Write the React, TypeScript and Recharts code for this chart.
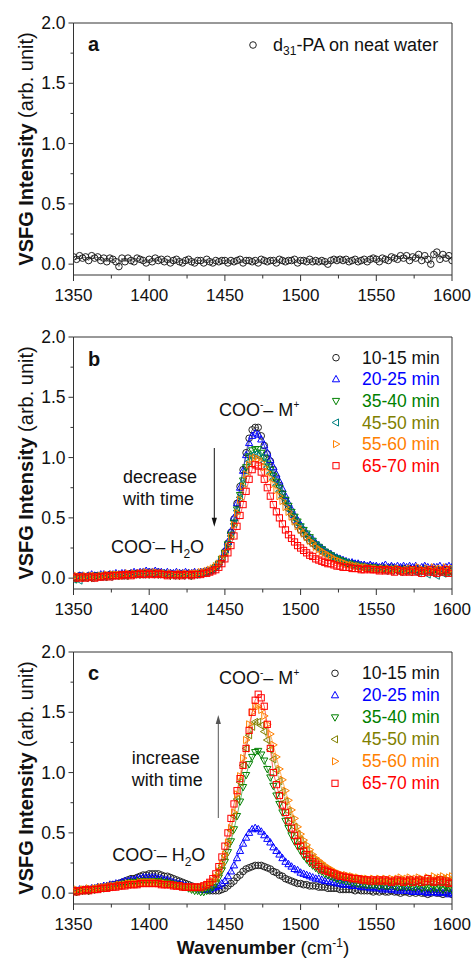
import React from 'react';
import { ComposedChart, Line, XAxis, YAxis, ReferenceArea } from 'recharts';

const FONT = '"Liberation Sans", Arial, Helvetica, sans-serif';
const AXIS = '#333';
const INK = '#111';

// ---------- data ----------
const WAVENUMBER = [
  1350, 1352, 1354, 1356, 1358, 1360, 1362, 1364, 1366, 1368,
  1370, 1372, 1374, 1376, 1378, 1380, 1382, 1384, 1386, 1388,
  1390, 1392, 1394, 1396, 1398, 1400, 1402, 1404, 1406, 1408,
  1410, 1412, 1414, 1416, 1418, 1420, 1422, 1424, 1426, 1428,
  1430, 1432, 1434, 1436, 1438, 1440, 1442, 1444, 1446, 1448,
  1450, 1452, 1454, 1456, 1458, 1460, 1462, 1464, 1466, 1468,
  1470, 1472, 1474, 1476, 1478, 1480, 1482, 1484, 1486, 1488,
  1490, 1492, 1494, 1496, 1498, 1500, 1502, 1504, 1506, 1508,
  1510, 1512, 1514, 1516, 1518, 1520, 1522, 1524, 1526, 1528,
  1530, 1532, 1534, 1536, 1538, 1540, 1542, 1544, 1546, 1548,
  1550, 1552, 1554, 1556, 1558, 1560, 1562, 1564, 1566, 1568,
  1570, 1572, 1574, 1576, 1578, 1580, 1582, 1584, 1586, 1588,
  1590, 1592, 1594, 1596, 1598, 1600,
];

const X_TICKS = [1350, 1375, 1400, 1425, 1450, 1475, 1500, 1525, 1550, 1575, 1600];
const Y_TICKS = [0, 0.25, 0.5, 0.75, 1, 1.25, 1.5, 1.75, 2];

const SERIES_LABELS = ['10-15 min', '20-25 min', '35-40 min', '45-50 min', '55-60 min', '65-70 min'];

// panel a: d31-PA on neat water
const A_NEAT = [
  0.06, 0.04, 0.07, 0.05, 0.06, 0.03, 0.07, 0.05, 0.06, 0.03,
  0.05, 0.02, 0.05, 0.04, 0.02, -0.02, 0.05, 0.02, 0.05, 0.03,
  0.02, 0.05, 0.04, 0.03, 0.01, 0.04, 0.02, 0.05, 0.03, 0.04,
  0.02, 0.04, 0.01, 0.03, 0.04, 0.02, 0.01, 0.03, 0.04, 0.02,
  0.01, 0.03, 0.03, 0.01, 0.04, 0.02, 0.01, 0.03, 0.02, 0.03,
  0.03, 0.01, 0.03, 0.02, 0.03, 0.04, 0.01, 0.03, 0.03, 0.02,
  0.03, 0.01, 0.04, 0.03, 0.02, 0.03, 0.03, 0.01, 0.04, 0.03,
  0.02, 0.03, 0.03, 0.04, 0.01, 0.03, 0.03, 0.02, 0.04, 0.02,
  0.03, 0.02, 0.03, 0.02, 0.0, 0.03, 0.04, 0.03, 0.04, 0.03,
  0.04, 0.02, 0.03, 0.04, 0.02, 0.03, 0.04, 0.02, 0.04, 0.05,
  0.04, 0.02, 0.05, 0.04, 0.03, 0.06, 0.05, 0.04, 0.07, 0.05,
  0.07, 0.03, 0.06, 0.05, 0.08, 0.03, 0.07, 0.04, 0.0, 0.08,
  0.1, 0.04, 0.08, 0.05, 0.07, 0.03,
];

// panel b: decrease with time
const B_10_15 = [
  0.01, 0.0, 0.02, 0.01, 0.01, 0.02, 0.01, 0.02, 0.02, 0.01,
  0.02, 0.02, 0.03, 0.02, 0.03, 0.03, 0.02, 0.03, 0.03, 0.04,
  0.03, 0.04, 0.04, 0.03, 0.04, 0.05, 0.04, 0.04, 0.05, 0.04,
  0.04, 0.03, 0.04, 0.03, 0.03, 0.04, 0.03, 0.03, 0.04, 0.03,
  0.04, 0.04, 0.04, 0.05, 0.05, 0.06, 0.07, 0.09, 0.12, 0.16,
  0.22, 0.29, 0.38, 0.49, 0.62, 0.76, 0.9, 1.04, 1.16, 1.23,
  1.25, 1.25, 1.18, 1.1, 1.03, 0.97, 0.9, 0.83, 0.77, 0.7,
  0.64, 0.58, 0.53, 0.48, 0.44, 0.4, 0.37, 0.34, 0.31, 0.29,
  0.27, 0.25, 0.23, 0.21, 0.2, 0.18, 0.17, 0.16, 0.15, 0.14,
  0.13, 0.12, 0.12, 0.11, 0.11, 0.1, 0.1, 0.09, 0.1, 0.09,
  0.09, 0.08, 0.09, 0.08, 0.08, 0.09, 0.08, 0.07, 0.08, 0.08,
  0.07, 0.08, 0.07, 0.08, 0.07, 0.06, 0.08, 0.07, 0.06, 0.07,
  0.07, 0.06, 0.07, 0.06, 0.05, 0.06,
];
const B_20_25 = [
  0.02, 0.01, 0.02, 0.02, 0.01, 0.02, 0.03, 0.02, 0.02, 0.03,
  0.03, 0.02, 0.03, 0.03, 0.04, 0.03, 0.04, 0.04, 0.03, 0.04,
  0.05, 0.04, 0.05, 0.05, 0.06, 0.05, 0.05, 0.06, 0.05, 0.05,
  0.04, 0.05, 0.04, 0.04, 0.05, 0.04, 0.04, 0.05, 0.04, 0.04,
  0.05, 0.04, 0.05, 0.05, 0.06, 0.06, 0.08, 0.1, 0.13, 0.17,
  0.23, 0.3, 0.39, 0.5, 0.62, 0.75, 0.89, 1.02, 1.12, 1.18,
  1.2, 1.19, 1.15, 1.1, 1.04, 0.98, 0.92, 0.86, 0.8, 0.74,
  0.68, 0.62, 0.57, 0.52, 0.48, 0.44, 0.4, 0.37, 0.34, 0.32,
  0.29, 0.27, 0.25, 0.23, 0.21, 0.2, 0.18, 0.17, 0.16, 0.15,
  0.14, 0.13, 0.13, 0.12, 0.12, 0.11, 0.11, 0.1, 0.11, 0.1,
  0.1, 0.09, 0.1, 0.11, 0.09, 0.1, 0.09, 0.1, 0.09, 0.1,
  0.09, 0.1, 0.09, 0.1, 0.08, 0.09, 0.1, 0.09, 0.08, 0.09,
  0.09, 0.1, 0.08, 0.09, 0.1, 0.09,
];
const B_35_40 = [
  0.0, -0.01, 0.01, 0.0, 0.01, 0.01, 0.0, 0.02, 0.01, 0.02,
  0.02, 0.01, 0.02, 0.02, 0.03, 0.02, 0.03, 0.03, 0.02, 0.03,
  0.03, 0.04, 0.03, 0.04, 0.04, 0.03, 0.04, 0.04, 0.03, 0.04,
  0.03, 0.03, 0.02, 0.03, 0.03, 0.02, 0.03, 0.03, 0.03, 0.02,
  0.03, 0.03, 0.04, 0.04, 0.05, 0.06, 0.07, 0.09, 0.12, 0.16,
  0.21, 0.28, 0.36, 0.46, 0.57, 0.69, 0.81, 0.92, 1.01, 1.06,
  1.07, 1.07, 1.04, 1.0, 0.95, 0.9, 0.85, 0.8, 0.75, 0.7,
  0.65, 0.6, 0.55, 0.51, 0.47, 0.43, 0.4, 0.37, 0.34, 0.31,
  0.28, 0.26, 0.24, 0.22, 0.2, 0.19, 0.17, 0.16, 0.15, 0.14,
  0.13, 0.12, 0.11, 0.11, 0.1, 0.1, 0.09, 0.09, 0.08, 0.09,
  0.08, 0.08, 0.07, 0.08, 0.07, 0.07, 0.08, 0.06, 0.07, 0.07,
  0.06, 0.07, 0.06, 0.07, 0.05, 0.06, 0.07, 0.06, 0.05, 0.06,
  0.07, 0.05, 0.06, 0.04, 0.06, 0.05,
];
const B_45_50 = [
  -0.01, 0.0, -0.02, 0.01, 0.0, 0.01, 0.0, 0.01, 0.02, 0.01,
  0.01, 0.02, 0.01, 0.02, 0.02, 0.03, 0.02, 0.02, 0.03, 0.03,
  0.03, 0.03, 0.04, 0.03, 0.04, 0.04, 0.03, 0.04, 0.03, 0.04,
  0.03, 0.03, 0.03, 0.02, 0.03, 0.03, 0.02, 0.03, 0.02, 0.03,
  0.03, 0.03, 0.04, 0.04, 0.05, 0.06, 0.07, 0.09, 0.12, 0.16,
  0.21, 0.27, 0.35, 0.45, 0.56, 0.67, 0.79, 0.89, 0.97, 1.02,
  1.03, 1.02, 1.0, 0.96, 0.92, 0.87, 0.82, 0.77, 0.72, 0.67,
  0.62, 0.57, 0.53, 0.49, 0.45, 0.42, 0.38, 0.35, 0.32, 0.3,
  0.27, 0.25, 0.23, 0.21, 0.2, 0.18, 0.17, 0.16, 0.14, 0.13,
  0.13, 0.12, 0.11, 0.1, 0.1, 0.09, 0.09, 0.08, 0.08, 0.08,
  0.07, 0.08, 0.07, 0.06, 0.07, 0.06, 0.07, 0.06, 0.05, 0.06,
  0.06, 0.05, 0.06, 0.05, 0.04, 0.06, 0.05, 0.03, 0.05, 0.04,
  0.02, 0.05, 0.04, 0.06, 0.07, 0.08,
];
const B_55_60 = [
  0.01, 0.02, 0.01, 0.01, 0.02, 0.01, 0.02, 0.02, 0.01, 0.02,
  0.02, 0.03, 0.02, 0.03, 0.03, 0.03, 0.02, 0.03, 0.04, 0.03,
  0.04, 0.03, 0.04, 0.04, 0.05, 0.04, 0.04, 0.05, 0.04, 0.04,
  0.04, 0.03, 0.04, 0.03, 0.03, 0.04, 0.03, 0.04, 0.03, 0.04,
  0.04, 0.04, 0.05, 0.05, 0.06, 0.07, 0.08, 0.1, 0.12, 0.16,
  0.2, 0.26, 0.34, 0.44, 0.54, 0.65, 0.76, 0.86, 0.94, 0.99,
  1.0, 0.99, 0.96, 0.92, 0.88, 0.83, 0.78, 0.73, 0.68, 0.64,
  0.59, 0.55, 0.51, 0.47, 0.43, 0.4, 0.37, 0.34, 0.31, 0.29,
  0.26, 0.24, 0.22, 0.21, 0.19, 0.18, 0.16, 0.15, 0.14, 0.13,
  0.12, 0.11, 0.11, 0.1, 0.1, 0.09, 0.09, 0.09, 0.08, 0.08,
  0.08, 0.07, 0.08, 0.07, 0.08, 0.07, 0.07, 0.08, 0.07, 0.06,
  0.07, 0.08, 0.06, 0.07, 0.09, 0.07, 0.06, 0.08, 0.07, 0.09,
  0.06, 0.08, 0.07, 0.09, 0.06, 0.08,
];
const B_65_70 = [
  0.0, 0.01, 0.0, 0.01, 0.0, 0.01, 0.01, 0.0, 0.01, 0.01,
  0.01, 0.02, 0.01, 0.02, 0.02, 0.02, 0.03, 0.02, 0.03, 0.02,
  0.03, 0.03, 0.04, 0.03, 0.03, 0.04, 0.03, 0.03, 0.04, 0.03,
  0.03, 0.02, 0.03, 0.03, 0.02, 0.03, 0.02, 0.03, 0.03, 0.02,
  0.03, 0.03, 0.03, 0.04, 0.04, 0.05, 0.06, 0.07, 0.09, 0.12,
  0.16, 0.21, 0.27, 0.35, 0.43, 0.52, 0.61, 0.72, 0.82, 0.9,
  0.94, 0.93, 0.88, 0.82, 0.75, 0.68, 0.61, 0.55, 0.5, 0.45,
  0.4, 0.36, 0.33, 0.3, 0.27, 0.25, 0.23, 0.21, 0.19, 0.18,
  0.16, 0.15, 0.14, 0.13, 0.12, 0.12, 0.11, 0.1, 0.1, 0.09,
  0.09, 0.09, 0.08, 0.08, 0.08, 0.07, 0.07, 0.08, 0.07, 0.07,
  0.07, 0.06, 0.07, 0.06, 0.07, 0.06, 0.05, 0.07, 0.06, 0.05,
  0.06, 0.05, 0.07, 0.05, 0.06, 0.04, 0.06, 0.05, 0.07, 0.05,
  0.04, 0.06, 0.05, 0.07, 0.04, 0.06,
];

// panel c: increase with time
const C_10_15 = [
  0.02, 0.01, 0.02, 0.02, 0.03, 0.02, 0.03, 0.03, 0.04, 0.04,
  0.05, 0.05, 0.06, 0.07, 0.07, 0.08, 0.09, 0.1, 0.11, 0.12,
  0.12, 0.13, 0.14, 0.15, 0.15, 0.16, 0.16, 0.16, 0.16, 0.15,
  0.14, 0.14, 0.13, 0.12, 0.11, 0.1, 0.09, 0.08, 0.07, 0.06,
  0.05, 0.05, 0.04, 0.03, 0.03, 0.02, 0.02, 0.02, 0.02, 0.03,
  0.04, 0.06, 0.08, 0.1, 0.13, 0.15, 0.18, 0.2, 0.21, 0.22,
  0.23, 0.23, 0.23, 0.22, 0.21, 0.2, 0.18, 0.17, 0.15, 0.14,
  0.12, 0.11, 0.1, 0.09, 0.08, 0.08, 0.07, 0.07, 0.06, 0.06,
  0.06, 0.05, 0.05, 0.05, 0.04, 0.04, 0.04, 0.04, 0.03, 0.03,
  0.03, 0.03, 0.03, 0.02, 0.03, 0.02, 0.02, 0.02, 0.02, 0.01,
  0.02, 0.01, 0.02, 0.01, 0.01, 0.02, 0.01, 0.01, 0.0, 0.01,
  0.01, 0.0, 0.01, 0.0, 0.01, 0.0, 0.0, -0.01, 0.0, 0.01,
  0.0, 0.0, -0.01, 0.0, 0.0, -0.01,
];
const C_20_25 = [
  0.02, 0.02, 0.03, 0.02, 0.03, 0.03, 0.04, 0.04, 0.05, 0.05,
  0.06, 0.06, 0.07, 0.07, 0.08, 0.08, 0.09, 0.1, 0.1, 0.11,
  0.11, 0.12, 0.12, 0.13, 0.13, 0.13, 0.13, 0.13, 0.12, 0.12,
  0.11, 0.11, 0.1, 0.09, 0.08, 0.08, 0.07, 0.06, 0.05, 0.05,
  0.04, 0.04, 0.03, 0.03, 0.03, 0.03, 0.04, 0.05, 0.06, 0.08,
  0.1, 0.14, 0.18, 0.23, 0.29, 0.35, 0.41, 0.46, 0.5, 0.53,
  0.54, 0.53, 0.51, 0.48, 0.45, 0.42, 0.38, 0.35, 0.32, 0.29,
  0.26, 0.24, 0.22, 0.2, 0.19, 0.17, 0.16, 0.15, 0.14, 0.13,
  0.12, 0.12, 0.11, 0.1, 0.1, 0.09, 0.09, 0.08, 0.08, 0.07,
  0.07, 0.07, 0.06, 0.06, 0.06, 0.05, 0.05, 0.05, 0.04, 0.05,
  0.04, 0.04, 0.03, 0.04, 0.03, 0.03, 0.03, 0.02, 0.03, 0.02,
  0.02, 0.02, 0.01, 0.02, 0.01, 0.02, 0.01, 0.0, 0.01, 0.01,
  0.0, 0.01, 0.0, 0.01, -0.01, 0.0,
];
const C_35_40 = [
  0.02, 0.01, 0.02, 0.02, 0.03, 0.02, 0.03, 0.03, 0.04, 0.04,
  0.04, 0.05, 0.05, 0.06, 0.06, 0.07, 0.07, 0.08, 0.08, 0.09,
  0.09, 0.09, 0.1, 0.1, 0.1, 0.1, 0.1, 0.1, 0.1, 0.09,
  0.09, 0.08, 0.08, 0.07, 0.07, 0.06, 0.05, 0.05, 0.04, 0.03,
  0.02, 0.02, 0.01, 0.01, 0.02, 0.03, 0.05, 0.08, 0.13, 0.19,
  0.26, 0.34, 0.43, 0.53, 0.64, 0.76, 0.88, 0.98, 1.07, 1.13,
  1.17, 1.18, 1.15, 1.1, 1.03, 0.96, 0.89, 0.81, 0.74, 0.67,
  0.6, 0.54, 0.48, 0.43, 0.39, 0.35, 0.31, 0.28, 0.25, 0.23,
  0.21, 0.19, 0.18, 0.16, 0.15, 0.14, 0.13, 0.12, 0.11, 0.11,
  0.1, 0.1, 0.09, 0.09, 0.08, 0.08, 0.08, 0.07, 0.07, 0.07,
  0.07, 0.06, 0.07, 0.06, 0.06, 0.07, 0.06, 0.05, 0.06, 0.06,
  0.05, 0.06, 0.05, 0.05, 0.06, 0.04, 0.05, 0.05, 0.04, 0.05,
  0.04, 0.05, 0.03, 0.05, 0.04, 0.03,
];
const C_45_50 = [
  0.02, 0.02, 0.03, 0.02, 0.03, 0.03, 0.03, 0.04, 0.04, 0.04,
  0.05, 0.05, 0.05, 0.06, 0.06, 0.06, 0.07, 0.07, 0.07, 0.08,
  0.08, 0.08, 0.09, 0.09, 0.09, 0.09, 0.09, 0.09, 0.09, 0.08,
  0.08, 0.08, 0.07, 0.07, 0.06, 0.06, 0.05, 0.05, 0.04, 0.04,
  0.04, 0.04, 0.04, 0.05, 0.06, 0.07, 0.09, 0.12, 0.17, 0.23,
  0.31, 0.41, 0.52, 0.64, 0.78, 0.92, 1.06, 1.2, 1.31, 1.38,
  1.42, 1.42, 1.39, 1.34, 1.27, 1.19, 1.11, 1.02, 0.93, 0.84,
  0.76, 0.68, 0.61, 0.55, 0.49, 0.44, 0.4, 0.36, 0.32, 0.29,
  0.26, 0.24, 0.22, 0.2, 0.19, 0.17, 0.16, 0.15, 0.14, 0.13,
  0.13, 0.12, 0.12, 0.11, 0.11, 0.1, 0.1, 0.1, 0.09, 0.1,
  0.09, 0.1, 0.09, 0.1, 0.09, 0.1, 0.09, 0.1, 0.11, 0.09,
  0.1, 0.11, 0.09, 0.1, 0.11, 0.1, 0.09, 0.11, 0.1, 0.09,
  0.11, 0.1, 0.11, 0.09, 0.1, 0.11,
];
const C_55_60 = [
  0.02, 0.03, 0.02, 0.03, 0.03, 0.04, 0.03, 0.04, 0.04, 0.05,
  0.05, 0.05, 0.06, 0.06, 0.06, 0.07, 0.07, 0.07, 0.08, 0.08,
  0.08, 0.08, 0.09, 0.09, 0.09, 0.09, 0.09, 0.09, 0.08, 0.08,
  0.08, 0.07, 0.07, 0.07, 0.06, 0.06, 0.06, 0.05, 0.05, 0.05,
  0.05, 0.05, 0.05, 0.06, 0.07, 0.08, 0.1, 0.13, 0.18, 0.24,
  0.32, 0.42, 0.54, 0.67, 0.82, 0.97, 1.12, 1.27, 1.4, 1.5,
  1.55, 1.55, 1.52, 1.47, 1.4, 1.32, 1.23, 1.13, 1.03, 0.94,
  0.85, 0.77, 0.69, 0.62, 0.55, 0.49, 0.44, 0.4, 0.36, 0.32,
  0.29, 0.27, 0.25, 0.23, 0.21, 0.2, 0.18, 0.17, 0.16, 0.15,
  0.15, 0.14, 0.14, 0.13, 0.13, 0.12, 0.12, 0.12, 0.11, 0.12,
  0.11, 0.12, 0.11, 0.12, 0.11, 0.12, 0.11, 0.12, 0.13, 0.11,
  0.12, 0.13, 0.11, 0.12, 0.13, 0.12, 0.11, 0.13, 0.12, 0.14,
  0.12, 0.13, 0.14, 0.12, 0.13, 0.14,
];
const C_65_70 = [
  0.02, 0.01, 0.02, 0.02, 0.03, 0.02, 0.03, 0.03, 0.03, 0.04,
  0.04, 0.04, 0.05, 0.05, 0.05, 0.06, 0.06, 0.06, 0.07, 0.07,
  0.07, 0.07, 0.08, 0.08, 0.08, 0.08, 0.08, 0.08, 0.08, 0.07,
  0.07, 0.07, 0.07, 0.06, 0.06, 0.06, 0.05, 0.05, 0.05, 0.05,
  0.05, 0.05, 0.05, 0.06, 0.07, 0.09, 0.12, 0.16, 0.22, 0.3,
  0.39, 0.5, 0.62, 0.74, 0.85, 0.95, 1.06, 1.2, 1.35, 1.5,
  1.6, 1.65, 1.62, 1.55, 1.4, 1.2, 1.0, 0.9, 0.81, 0.73,
  0.67, 0.6, 0.54, 0.48, 0.43, 0.39, 0.35, 0.32, 0.29, 0.26,
  0.24, 0.22, 0.2, 0.19, 0.18, 0.17, 0.16, 0.15, 0.14, 0.14,
  0.13, 0.13, 0.12, 0.12, 0.12, 0.11, 0.11, 0.11, 0.1, 0.11,
  0.1, 0.11, 0.1, 0.11, 0.1, 0.09, 0.1, 0.11, 0.1, 0.09,
  0.1, 0.11, 0.09, 0.1, 0.11, 0.09, 0.1, 0.12, 0.1, 0.09,
  0.1, 0.11, 0.09, 0.1, 0.08, 0.09,
];

const B_SERIES = [B_10_15, B_20_25, B_35_40, B_45_50, B_55_60, B_65_70];
const C_SERIES = [C_10_15, C_20_25, C_35_40, C_45_50, C_55_60, C_65_70];

// ---------- styles ----------
type Shape = 'circle' | 'up' | 'down' | 'left' | 'right' | 'square';
const SHAPES: Shape[] = ['circle', 'up', 'down', 'left', 'right', 'square'];
const B_COLORS = ['#222222', '#0000ff', '#008000', '#008080', '#ff8000', '#ff0000'];
const C_COLORS = ['#222222', '#0000ff', '#008000', '#808000', '#ff8000', '#ff0000'];
const TEXT_COLORS = ['#111111', '#0000ff', '#008000', '#808000', '#ff8000', '#ff0000'];
const KEYS = ['s0', 's1', 's2', 's3', 's4', 's5'];

const rowsA = WAVENUMBER.map((w, i) => ({ w, s0: A_NEAT[i] }));
const rowsB = WAVENUMBER.map((w, i) => {
  const r: any = { w };
  B_SERIES.forEach((s, k) => { r[KEYS[k]] = s[i]; });
  return r;
});
const rowsC = WAVENUMBER.map((w, i) => {
  const r: any = { w };
  C_SERIES.forEach((s, k) => { r[KEYS[k]] = s[i]; });
  return r;
});

const PLOT_TOP = 23;
const PLOT_H = 252;
const SW = 1;

function Marker({ shape, cx, cy, color }: { shape: Shape; cx: number; cy: number; color: string }) {
  const common = { fill: 'none', stroke: color, strokeWidth: SW };
  switch (shape) {
    case 'circle':
      return <circle cx={cx} cy={cy} r={3.3} {...common} />;
    case 'up':
      return <polygon points={`${cx},${cy - 3.9} ${cx - 3.6},${cy + 2.5} ${cx + 3.6},${cy + 2.5}`} {...common} />;
    case 'down':
      return <polygon points={`${cx},${cy + 3.9} ${cx - 3.6},${cy - 2.5} ${cx + 3.6},${cy - 2.5}`} {...common} />;
    case 'left':
      return <polygon points={`${cx - 3.9},${cy} ${cx + 2.5},${cy - 3.6} ${cx + 2.5},${cy + 3.6}`} {...common} />;
    case 'right':
      return <polygon points={`${cx + 3.9},${cy} ${cx - 2.5},${cy - 3.6} ${cx - 2.5},${cy + 3.6}`} {...common} />;
    default:
      return <rect x={cx - 3.1} y={cy - 3.1} width={6.2} height={6.2} {...common} />;
  }
}

function XTick(props: any) {
  const { x, y, payload } = props;
  const v = payload.value as number;
  const major = v % 50 === 0;
  return (
    <g>
      <line x1={x} x2={x} y1={y} y2={y + (major ? 6 : 3.5)} stroke={AXIS} strokeWidth={1} />
      {major && (
        <text x={x} y={y + 25.5} textAnchor="middle" fontFamily={FONT} fontSize={17} fill={INK}>
          {v}
        </text>
      )}
    </g>
  );
}

function YTick(props: any) {
  const { x, y, payload } = props;
  const v = payload.value as number;
  const major = Math.abs(v * 2 - Math.round(v * 2)) < 1e-6;
  return (
    <g>
      <line x1={x - (major ? 5 : 3)} x2={x} y1={y} y2={y} stroke={AXIS} strokeWidth={1} />
      {major && (
        <text x={x - 8} y={y + 6} textAnchor="end" fontFamily={FONT} fontSize={17.5} fill={INK}>
          {v.toFixed(1)}
        </text>
      )}
    </g>
  );
}

function YLabel() {
  const cy = PLOT_TOP + PLOT_H / 2;
  return (
    <text x={33} y={cy} transform={`rotate(-90 33 ${cy})`} textAnchor="middle" fontFamily={FONT} fontSize={20} fill={INK}>
      <tspan fontWeight="bold">VSFG Intensity</tspan>
      <tspan> (arb. unit)</tspan>
    </text>
  );
}

function PanelLetter({ letter, y }: { letter: string; y: number }) {
  return (
    <text x={88} y={y} fontFamily={FONT} fontSize={20} fontWeight="bold" fill={INK}>
      {letter}
    </text>
  );
}

function Legend6({ mx, tx, y0, dy, markerColors }: { mx: number; tx: number; y0: number; dy: number; markerColors: string[] }) {
  return (
    <g>
      {SERIES_LABELS.map((label, i) => {
        const cy = y0 + i * dy;
        return (
          <g key={label}>
            <Marker shape={SHAPES[i]} cx={mx} cy={cy} color={markerColors[i]} />
            <text x={tx} y={cy + 6} fontFamily={FONT} fontSize={17.5} fill={TEXT_COLORS[i]}>
              {label}
            </text>
          </g>
        );
      })}
    </g>
  );
}

function CooM({ x, y }: { x: number; y: number }) {
  return (
    <text x={x} y={y} fontFamily={FONT} fontSize={18} fill={INK}>
      COO
      <tspan dy={-8} fontSize={10}>-</tspan>
      <tspan dy={8}>– M</tspan>
      <tspan dy={-8} fontSize={10}>+</tspan>
    </text>
  );
}

function CooH2O({ x, y }: { x: number; y: number }) {
  return (
    <text x={x} y={y} fontFamily={FONT} fontSize={18} fill={INK}>
      COO
      <tspan dy={-8} fontSize={10}>-</tspan>
      <tspan dy={8}>– H</tspan>
      <tspan dy={5} fontSize={12}>2</tspan>
      <tspan dy={-5}>O</tspan>
    </text>
  );
}

function Panel({
  top,
  height,
  rows,
  count,
  colors,
  bottomMargin,
  children,
}: {
  top: number;
  height: number;
  rows: any[];
  count: number;
  colors: string[];
  bottomMargin: number;
  children: React.ReactNode;
}) {
  const keys = KEYS.slice(0, count);
  return (
    <div style={{ position: 'absolute', left: 0, top, width: 472, height }}>
      <ComposedChart
        width={472}
        height={height}
        data={rows}
        margin={{ top: PLOT_TOP, right: 20, bottom: bottomMargin, left: 13.5 }}
      >
        <XAxis
          type="number"
          dataKey="w"
          domain={[1350, 1600]}
          allowDataOverflow
          ticks={X_TICKS}
          interval={0}
          tickSize={0}
          tickMargin={0}
          tickLine={false}
          axisLine={false}
          height={30}
          tick={XTick}
        />
        <YAxis
          type="number"
          domain={[-0.09, 2]}
          allowDataOverflow
          ticks={Y_TICKS}
          interval={0}
          tickSize={0}
          tickMargin={0}
          tickLine={false}
          axisLine={false}
          width={60}
          tick={YTick}
        />
        <ReferenceArea x1={1350} x2={1600} y1={-0.09} y2={2} fill="none" fillOpacity={0} stroke={AXIS} strokeWidth={1} ifOverflow="visible" />
        {keys.map((k, i) => (
          <Line
            key={k}
            dataKey={k}
            type="linear"
            stroke={colors[i]}
            strokeWidth={0.7}
            strokeOpacity={0.85}
            dot={(p: any) =>
              p.cx == null || p.cy == null ? (
                <g key={`${k}-${p.index}`} />
              ) : (
                <Marker key={`${k}-${p.index}`} shape={SHAPES[i]} cx={p.cx} cy={p.cy} color={colors[i]} />
              )
            }
            activeDot={false}
            isAnimationActive={false}
          />
        ))}
      </ComposedChart>
      <svg
        width={472}
        height={height}
        style={{ position: 'absolute', left: 0, top: 0, pointerEvents: 'none', overflow: 'visible' }}
      >
        {children}
      </svg>
    </div>
  );
}

function ArrowDown({ x, y1, y2, color }: { x: number; y1: number; y2: number; color: string }) {
  return (
    <g>
      <line x1={x} x2={x} y1={y1} y2={y2 - 8} stroke={color} strokeWidth={1} />
      <polygon points={`${x - 2.6},${y2 - 9} ${x + 2.6},${y2 - 9} ${x},${y2}`} fill={color} />
    </g>
  );
}

function ArrowUp({ x, y1, y2, color }: { x: number; y1: number; y2: number; color: string }) {
  return (
    <g>
      <line x1={x} x2={x} y1={y1} y2={y2 + 8} stroke={color} strokeWidth={1} />
      <polygon points={`${x - 2.6},${y2 + 9} ${x + 2.6},${y2 + 9} ${x},${y2}`} fill={color} />
    </g>
  );
}

export default function App() {
  return (
    <div style={{ position: 'absolute', left: 0, top: 0, width: 472, height: 960, background: '#fff' }}>
      <Panel top={0} height={314} rows={rowsA} count={1} colors={['#222222']} bottomMargin={9}>
        <YLabel />
        <PanelLetter letter="a" y={51} />
        <Marker shape="circle" cx={253} cy={45} color="#222222" />
        <text x={273} y={51} fontFamily={FONT} fontSize={18} fill={INK}>
          d<tspan dy={4} fontSize={12}>31</tspan>
          <tspan dy={-4}>-PA on neat water</tspan>
        </text>
      </Panel>

      <Panel top={314} height={315} rows={rowsB} count={6} colors={B_COLORS} bottomMargin={10}>
        <YLabel />
        <PanelLetter letter="b" y={52} />
        <Legend6 mx={336} tx={362} y0={43.7} dy={21.6} markerColors={B_COLORS} />
        <CooM x={219} y={102} />
        <text x={123} y={169.3} fontFamily={FONT} fontSize={18} fill={INK}>decrease</text>
        <text x={123} y={191} fontFamily={FONT} fontSize={18} fill={INK}>with time</text>
        <ArrowDown x={214.3} y1={134} y2={212.7} color="#111" />
        <CooH2O x={111} y={238.7} />
      </Panel>

      <Panel top={629} height={331} rows={rowsC} count={6} colors={C_COLORS} bottomMargin={26}>
        <YLabel />
        <PanelLetter letter="c" y={50.5} />
        <Legend6 mx={335} tx={362} y0={44.3} dy={22} markerColors={C_COLORS} />
        <CooM x={219} y={55} />
        <text x={131.7} y={135} fontFamily={FONT} fontSize={18} fill={INK}>increase</text>
        <text x={131.7} y={157} fontFamily={FONT} fontSize={18} fill={INK}>with time</text>
        <ArrowUp x={218.3} y1={189} y2={86} color="#555" />
        <CooH2O x={112.3} y={231.7} />
        <text x={263} y={325} textAnchor="middle" fontFamily={FONT} fontSize={19} fill={INK}>
          <tspan fontWeight="bold">Wavenumber</tspan>
          <tspan> (cm</tspan>
          <tspan dy={-7} fontSize={12}>-1</tspan>
          <tspan dy={7}>)</tspan>
        </text>
      </Panel>
    </div>
  );
}
